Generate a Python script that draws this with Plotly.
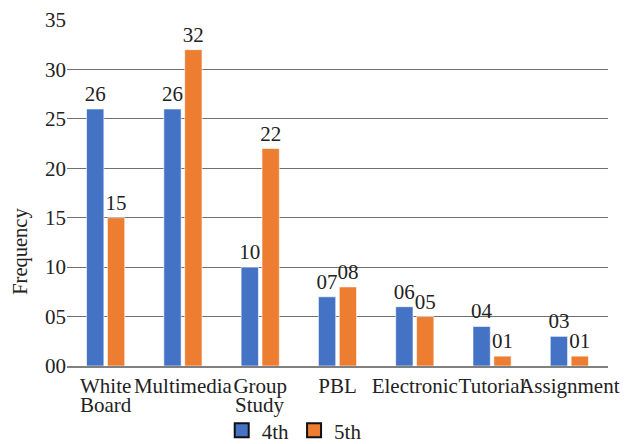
import plotly.graph_objects as go

categories = ["White<br>Board", "Multimedia", "Group<br>Study", "PBL", "Electronic", "Tutorial", "Assignment"]
series_names = ["4th", "5th"]
values_4th = [26, 26, 10, 7, 6, 4, 3]
values_5th = [15, 32, 22, 8, 5, 1, 1]
colors = ["#4472C4", "#ED7D31"]
y_ticks = [0, 5, 10, 15, 20, 25, 30, 35]
y_ticktext = ["00", "05", "10", "15", "20", "25", "30", "35"]
y_title = "Frequency"

FONT = "Liberation Serif, Times New Roman, Tinos, serif"

first_lines = [c.split("<br>")[0] for c in categories]
second_lines = [c.split("<br>")[1] if "<br>" in c else "" for c in categories]

fig = go.Figure()
for name, vals, col in zip(series_names, [values_4th, values_5th], colors):
    fig.add_trace(go.Bar(
        x=categories, y=vals, name=name, showlegend=False,
        marker=dict(color=col, line=dict(color="rgba(255,255,255,0.6)", width=1)),
        text=[f"{v:02d}" for v in vals], textposition="outside",
        constraintext="none",
        textfont=dict(family=FONT, size=21, color="#222"),
        cliponaxis=False, hoverinfo="skip",
    ))
for name, col in zip(series_names, colors):
    fig.add_trace(go.Scatter(
        x=[categories[0]], y=[None], mode="markers", name=name,
        marker=dict(symbol="square", size=14, color=col, line=dict(color="#111", width=2)),
    ))

annotations = []
for cat, line2 in zip(categories, second_lines):
    if line2:
        annotations.append(dict(x=cat, xref="x", y=0, yref="paper", text=line2,
                                showarrow=False, xanchor="center", yanchor="middle",
                                yshift=-39, font=dict(family=FONT, size=21, color="#222")))
annotations.append(dict(x=0, xref="paper", y=0.33, yref="paper", text=y_title,
                        textangle=-90, showarrow=False, xanchor="center", yanchor="middle",
                        xshift=-46, font=dict(family=FONT, size=20.5, color="#222")))

fig.update_layout(
    width=639, height=444,
    margin=dict(l=67, r=31, t=20, b=78, autoexpand=False),
    paper_bgcolor="white", plot_bgcolor="white",
    font=dict(family=FONT, size=20, color="#222"),
    barmode="group", bargap=0.46, bargroupgap=0.17,
    legend=dict(orientation="h", x=0.42, xanchor="center", bgcolor="rgba(0,0,0,0)",
                yref="container", y=0.03, yanchor="middle",
                font=dict(family=FONT, size=21, color="#222")),
    xaxis=dict(showgrid=False, showline=True, linecolor="#808080", linewidth=1.5,
               automargin=False, tickvals=categories, ticktext=first_lines,
               ticks="", tickangle=0, tickfont=dict(family=FONT, size=21, color="#222")),
    yaxis=dict(range=[0, 35], tickvals=y_ticks, ticktext=y_ticktext, automargin=False,
               showgrid=True, gridcolor="#707070", gridwidth=1.3, zeroline=False,
               showline=False, ticks="", tickfont=dict(family=FONT, size=21, color="#222")),
    annotations=annotations,
)

fig.write_html("out.html", config={"displayModeBar": False},
               post_script="document.body.style.margin='0';")
